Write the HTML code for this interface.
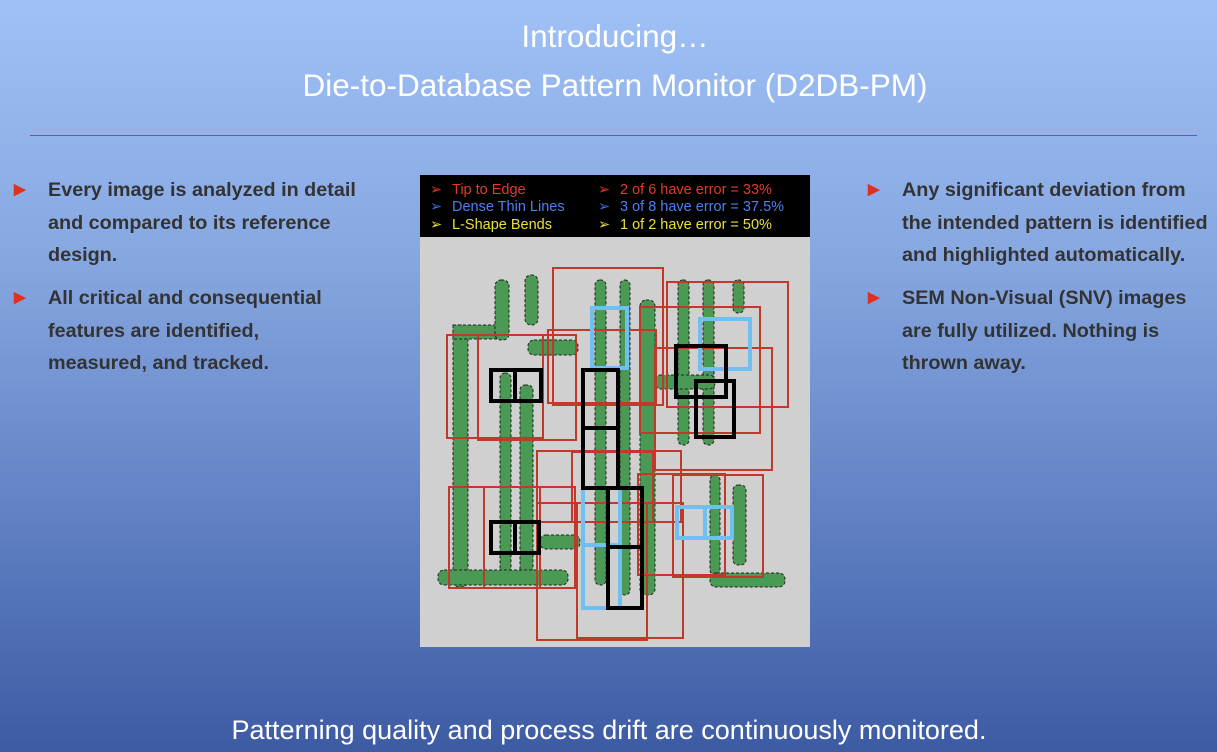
<!DOCTYPE html>
<html><head><meta charset="utf-8"><style>
body{margin:0;width:1217px;height:752px;overflow:hidden;position:relative;font-family:"Liberation Sans",sans-serif;
background:linear-gradient(#9fc1f6 0%,#86a6e0 35%,#5f7fc2 70%,#3d5ba3 100%);}
.t{position:absolute;left:0;width:1230px;text-align:center;color:#fff;font-size:31.5px}
.b{position:absolute;color:#333;font-weight:bold;font-size:19.8px;line-height:32.5px}
.b span{position:absolute;left:-34px;color:#e03020;font-size:15px}
</style></head><body>
<div class="t" style="top:18px">Introducing…</div>
<div class="t" style="top:67px">Die-to-Database Pattern Monitor (D2DB-PM)</div>
<div style="position:absolute;left:30px;top:135px;width:1167px;height:1px;background:#d83a28"></div>
<div class="b" style="left:48px;top:174px;width:320px"><span>▶</span>Every image is analyzed in detail and compared to its reference design.</div>
<div class="b" style="left:48px;top:282px;width:300px"><span>▶</span>All critical and consequential features are identified, measured, and tracked.</div>
<div class="b" style="left:902px;top:174px;width:314px"><span>▶</span>Any significant deviation from the intended pattern is identified and highlighted automatically.</div>
<div class="b" style="left:902px;top:282px;width:290px"><span>▶</span>SEM Non-Visual (SNV) images are fully utilized. Nothing is thrown away.</div>
<svg style="position:absolute;left:420px;top:175px" width="390" height="472" viewBox="0 0 390 472">
<rect width="390" height="472" fill="#d0d0d0"/>
<rect width="390" height="62" fill="#000"/>
<g font-size="14.5" font-family="Liberation Sans,sans-serif">
<text x="10" y="19" fill="#e03c28">➢</text><text x="32" y="19" fill="#e03c28">Tip to Edge</text>
<text x="10" y="36" fill="#3a6ee8">➢</text><text x="32" y="36" fill="#4f80f0">Dense Thin Lines</text>
<text x="10" y="54" fill="#e8e040">➢</text><text x="32" y="54" fill="#e8e040">L-Shape Bends</text>
<text x="178" y="19" fill="#e03c28">➢</text><text x="200" y="19" fill="#e03c28">2 of 6 have error = 33%</text>
<text x="178" y="36" fill="#3a6ee8">➢</text><text x="200" y="36" fill="#4f80f0">3 of 8 have error = 37.5%</text>
<text x="178" y="54" fill="#e8e040">➢</text><text x="200" y="54" fill="#e8e040">1 of 2 have error = 50%</text>
</g>
<g fill="#4a9a55" stroke="#222" stroke-dasharray="3,2" stroke-width="1">
<rect x="33" y="150" width="15" height="262" rx="6"/><rect x="33" y="150" width="50" height="14"/><rect x="75" y="105" width="14" height="60" rx="6"/>
<rect x="80" y="198" width="11" height="205" rx="5"/><rect x="100" y="210" width="13" height="195" rx="5"/>
<rect x="105" y="100" width="13" height="50" rx="6"/><rect x="108" y="165" width="50" height="15" rx="6"/>
<rect x="175" y="105" width="11" height="305" rx="5"/><rect x="200" y="105" width="10" height="315" rx="5"/><rect x="220" y="125" width="15" height="295" rx="6"/>
<rect x="258" y="105" width="11" height="165" rx="5"/><rect x="283" y="105" width="11" height="165" rx="5"/><rect x="313" y="105" width="11" height="33" rx="5"/>
<rect x="290" y="300" width="10" height="100" rx="5"/><rect x="313" y="310" width="13" height="80" rx="5"/>
<rect x="18" y="395" width="130" height="15" rx="6"/><rect x="290" y="398" width="75" height="14" rx="6"/>
<rect x="235" y="200" width="60" height="14" rx="6"/><rect x="120" y="360" width="40" height="14" rx="6"/>
</g>
<g fill="none" stroke="#c0392b" stroke-width="2">
<rect x="133" y="93" width="110" height="137"/><rect x="247" y="107" width="121" height="125"/>
<rect x="27" y="160" width="96" height="103"/><rect x="58" y="160" width="98" height="105"/>
<rect x="128" y="155" width="108" height="73"/><rect x="220" y="132" width="120" height="126"/>
<rect x="235" y="173" width="117" height="122"/><rect x="117" y="276" width="144" height="71"/>
<rect x="152" y="277" width="81" height="70"/><rect x="29" y="312" width="126" height="101"/>
<rect x="64" y="312" width="56" height="101"/><rect x="117" y="328" width="110" height="137"/>
<rect x="157" y="328" width="106" height="135"/><rect x="218" y="299" width="87" height="101"/>
<rect x="253" y="300" width="90" height="102"/>
</g>
<g fill="none" stroke="#6ec0f0" stroke-width="4">
<rect x="172" y="133" width="35" height="60"/><rect x="280" y="144" width="50" height="50"/>
<rect x="163" y="313" width="37" height="120"/><line x1="163" y1="370" x2="200" y2="370"/>
<rect x="257" y="332" width="55" height="31"/><line x1="285" y1="332" x2="285" y2="363"/>
</g>
<g fill="none" stroke="#000" stroke-width="4">
<rect x="71" y="195" width="50" height="31"/><line x1="95" y1="195" x2="95" y2="226"/>
<rect x="71" y="347" width="48" height="31"/><line x1="95" y1="347" x2="95" y2="378"/>
<rect x="163" y="195" width="35" height="118"/><line x1="163" y1="253" x2="198" y2="253"/>
<rect x="188" y="313" width="34" height="120"/><line x1="188" y1="372" x2="222" y2="372"/>
<rect x="256" y="171" width="50" height="51"/><rect x="276" y="206" width="38" height="56"/>
</g>
</svg>
<div class="t" style="top:715px;left:-6px;font-size:27px">Patterning quality and process drift are continuously monitored.</div>
</body></html>
